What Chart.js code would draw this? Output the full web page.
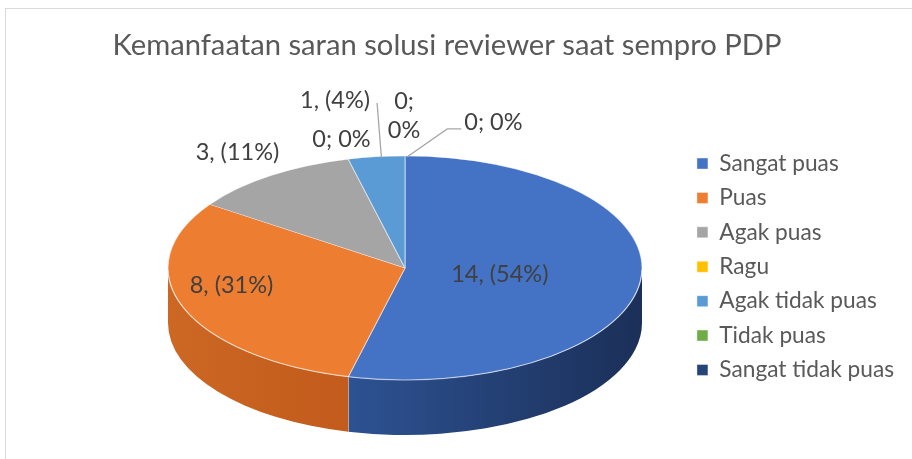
<!DOCTYPE html>
<html><head><meta charset="utf-8">
<script src="https://cdn.jsdelivr.net/npm/chart.js@4.4.1/dist/chart.umd.min.js"></script>
<style>html,body{margin:0;padding:0;background:#fff;overflow:hidden}canvas{display:block}</style>
</head><body>
<canvas id="c" width="912" height="459"></canvas>
<script>
// ---------- data ----------
const chartTitle = 'Kemanfaatan saran solusi reviewer saat sempro PDP';
const categories = ['Sangat puas', 'Puas', 'Agak puas', 'Ragu', 'Agak tidak puas', 'Tidak puas', 'Sangat tidak puas'];
const responses = [14, 8, 3, 0, 1, 0, 0];
const percentLabels = [54, 31, 11, 0, 4, 0, 0];

// ---------- style ----------
const sliceColors = ['#4472C4', '#ED7D31', '#A5A5A5', '#FFC000', '#5B9BD5', '#70AD47', '#264478'];
const sideColors = [['#2D5292', '#1B2F58'], ['#CC6724', '#C25B1B'], ['#7F7F7F', '#5F5F5F'], ['#BF9000', '#8F6C00'],
                    ['#2E75B6', '#1F4E79'], ['#548235', '#375623'], ['#1C3359', '#131F35']];
const PIE = { cx: 405, cy: 268, rx: 237, ry: 112, depth: 55 };
// label placement relative to pie centre, in units of rx / ry
const labelLayout = [
  { dx: 0.40, dy: 0.055 },
  { dx: -0.732, dy: 0.16 },
  { dx: -0.707, dy: -1.036 },
  { dx: -0.268, dy: -1.152 },
  { dx: -0.295, dy: -1.50, leader: 'right' },
  { dx: -0.004, dy: -1.362, wrap: true },
  { dx: 0.373, dy: -1.30, leader: 'left' }
];
const LABEL_FONT = '23.5px Lato';
const LABEL_COLOR = '#404040';

const framePlugin = {
  id: 'frame',
  beforeDraw(chart) {
    const ctx = chart.ctx;
    ctx.save();
    ctx.strokeStyle = '#D9D9D9';
    ctx.lineWidth = 1;
    ctx.strokeRect(5.5, 8.5, 1200, 1200);
    ctx.restore();
  }
};

function ellPt(a) {
  return [PIE.cx + PIE.rx * Math.cos(a), PIE.cy + PIE.ry * Math.sin(a)];
}

const pie3d = {
  id: 'pie3d',
  beforeDatasetDraw(chart, args) {
    const ctx = chart.ctx;
    const arcs = args.meta.data;
    ctx.save();
    // side walls (front half of the disc)
    arcs.forEach((arc, i) => {
      const a = Math.max(arc.startAngle, 0);
      const b = Math.min(arc.endAngle, Math.PI);
      if (b <= a) return;
      const xa = ellPt(a)[0], xb = ellPt(b)[0];
      const g = ctx.createLinearGradient(Math.min(xa, xb), 0, Math.max(xa, xb), 0);
      g.addColorStop(0, sideColors[i][0]);
      g.addColorStop(1, sideColors[i][1]);
      ctx.beginPath();
      ctx.ellipse(PIE.cx, PIE.cy, PIE.rx, PIE.ry, 0, a, b, false);
      ctx.ellipse(PIE.cx, PIE.cy + PIE.depth, PIE.rx, PIE.ry, 0, b, a, true);
      ctx.closePath();
      ctx.fillStyle = g;
      ctx.fill();
      if (arc.endAngle > 0 && arc.endAngle < Math.PI) {
        const p = ellPt(arc.endAngle);
        ctx.beginPath();
        ctx.moveTo(p[0], p[1]);
        ctx.lineTo(p[0], p[1] + PIE.depth);
        ctx.strokeStyle = 'rgba(255,255,255,0.55)';
        ctx.lineWidth = 1.2;
        ctx.stroke();
      }
    });
    // project the library's circular pie onto the tilted ellipse
    const ref = arcs[0];
    const R = ref.outerRadius;
    ctx.translate(PIE.cx, PIE.cy);
    ctx.scale(PIE.rx / R, PIE.ry / R);
    ctx.translate(-ref.x, -ref.y);
  },
  afterDatasetDraw(chart, args) {
    const ctx = chart.ctx;
    ctx.restore();
    ctx.save();
    ctx.beginPath();
    ctx.ellipse(PIE.cx, PIE.cy, PIE.rx, PIE.ry, 0, 0.02, Math.PI - 0.02, false);
    ctx.strokeStyle = 'rgba(255,255,255,0.45)';
    ctx.lineWidth = 1.2;
    ctx.stroke();
    ctx.restore();
    // data labels
    const arcs = args.meta.data;
    ctx.save();
    ctx.font = LABEL_FONT;
    ctx.fillStyle = LABEL_COLOR;
    ctx.textAlign = 'center';
    ctx.textBaseline = 'middle';
    responses.forEach((v, i) => {
      const L = labelLayout[i];
      const x = PIE.cx + L.dx * PIE.rx;
      const y = PIE.cy + L.dy * PIE.ry;
      const txt = v > 0 ? `${v}, (${percentLabels[i]}%)` : `${v}; ${percentLabels[i]}%`;
      let w;
      if (L.wrap) {
        const parts = [`${v};`, `${percentLabels[i]}%`];
        ctx.fillText(parts[0], x, y - 14.5);
        ctx.fillText(parts[1], x, y + 14.5);
        w = ctx.measureText(parts[1]).width;
      } else {
        ctx.fillText(txt, x, y);
        w = ctx.measureText(txt).width;
      }
      if (L.leader) {
        const arc = arcs[i];
        const mid = (arc.startAngle + arc.endAngle) / 2;
        const e = ellPt(mid);
        ctx.beginPath();
        ctx.strokeStyle = '#A6A6A6';
        ctx.lineWidth = 1.3;
        if (L.leader === 'right') {
          ctx.moveTo(x + w / 2 + 7, y + 3);
          ctx.lineTo(e[0] + 5, e[1] + 1);
        } else {
          ctx.moveTo(x - w / 2 - 3, y + 6.5);
          ctx.lineTo(x - w / 2 - 17, y + 6.5);
          ctx.lineTo(e[0] + 2, e[1] + 1);
        }
        ctx.stroke();
      }
    });
    ctx.restore();
  }
};

function build() {
  Chart.defaults.font.family = 'Lato';
  new Chart(document.getElementById('c'), {
    type: 'pie',
    data: {
      labels: categories,
      datasets: [{
        data: responses,
        backgroundColor: sliceColors,
        borderColor: 'rgba(255,255,255,0.5)',
        borderWidth: 0.8,
        clip: false
      }]
    },
    options: {
      responsive: false,
      devicePixelRatio: 1,
      animation: false,
      events: [],
      layout: { padding: { top: 0, right: 8, bottom: 66, left: -10 } },
      plugins: {
        title: {
          display: true,
          text: chartTitle,
          color: '#595959',
          font: { family: 'Lato', size: 29.2, weight: 'normal' },
          padding: { top: 28.3, bottom: 11 }
        },
        legend: {
          position: 'right',
          align: 'end',
          labels: {
            color: '#595959',
            font: { family: 'Lato', size: 22.7 },
            boxWidth: 11,
            boxHeight: 11,
            padding: 11.7
          }
        },
        tooltip: { enabled: false }
      }
    },
    plugins: [framePlugin, pie3d]
  });
}
if (document.fonts && document.fonts.load) {
  Promise.all([document.fonts.load('20px Lato')]).then(build, build);
} else build();
</script>
</body></html>
